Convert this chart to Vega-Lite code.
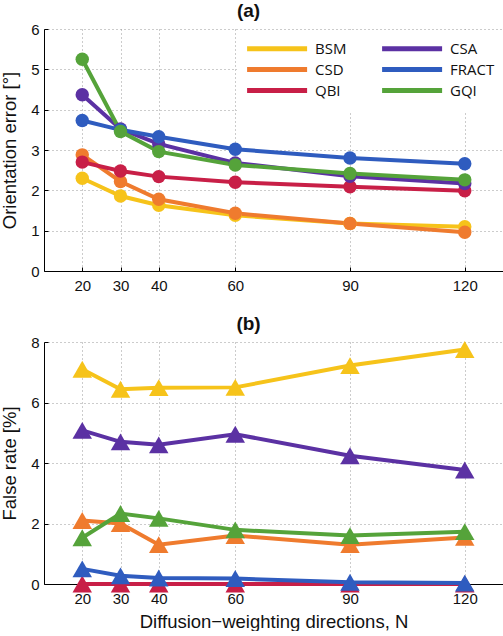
{
  "$schema": "https://vega.github.io/schema/vega-lite/v6.json",
  "padding": {"left": 0, "top": 2, "right": 0, "bottom": 0},
  "background": "white",
  "resolve": {"legend": {"color": "independent"}},
  "config": {
    "font": "Liberation Sans",
    "view": {"stroke": null},
    "concat": {"spacing": 22},
    "axis": {
      "domainColor": "#000",
      "domainWidth": 1,
      "tickColor": "#000",
      "tickSize": -4,
      "labelPadding": 9,
      "labelFontSize": 15,
      "labelColor": "#111",
      "labelFont": "Liberation Sans",
      "titleFont": "Liberation Sans",
      "titleFontSize": 18.5,
      "titleFontWeight": "normal",
      "titleColor": "#111",
      "gridColor": "#999",
      "gridDash": [1, 3],
      "gridWidth": 1
    },
    "axisX": {"labelPadding": 11},
    "title": {"fontSize": 19, "fontWeight": "bold", "font": "Liberation Sans", "color": "#111", "dx": -25, "offset": 1},
    "legend": {
      "orient": "none",
      "direction": "horizontal",
      "legendX": 193,
      "legendY": 1,
      "columns": 2,
      "gridAlign": "all",
      "columnPadding": 12,
      "rowPadding": 0,
      "symbolType": "M-1.4,0H8.6",
      "symbolSize": 144,
      "symbolStrokeWidth": 5,
      "labelFont": "Open Sans",
      "labelFontSize": 15,
      "labelColor": "#111",
      "labelAlign": "left",
      "labelOffset": 51,
      "fillColor": "white",
      "padding": 10,
      "title": null
    }
  },
  "datasets": {
    "a": [
      {"method": "BSM", "N": 20, "value": 2.3}, {"method": "BSM", "N": 30, "value": 1.86}, {"method": "BSM", "N": 40, "value": 1.63}, {"method": "BSM", "N": 60, "value": 1.38}, {"method": "BSM", "N": 90, "value": 1.18}, {"method": "BSM", "N": 120, "value": 1.1},
      {"method": "CSD", "N": 20, "value": 2.88}, {"method": "CSD", "N": 30, "value": 2.22}, {"method": "CSD", "N": 40, "value": 1.78}, {"method": "CSD", "N": 60, "value": 1.43}, {"method": "CSD", "N": 90, "value": 1.18}, {"method": "CSD", "N": 120, "value": 0.96},
      {"method": "QBI", "N": 20, "value": 2.7}, {"method": "QBI", "N": 30, "value": 2.48}, {"method": "QBI", "N": 40, "value": 2.34}, {"method": "QBI", "N": 60, "value": 2.2}, {"method": "QBI", "N": 90, "value": 2.09}, {"method": "QBI", "N": 120, "value": 1.99},
      {"method": "CSA", "N": 20, "value": 4.37}, {"method": "CSA", "N": 30, "value": 3.52}, {"method": "CSA", "N": 40, "value": 3.15}, {"method": "CSA", "N": 60, "value": 2.68}, {"method": "CSA", "N": 90, "value": 2.35}, {"method": "CSA", "N": 120, "value": 2.17},
      {"method": "FRACT", "N": 20, "value": 3.73}, {"method": "FRACT", "N": 30, "value": 3.5}, {"method": "FRACT", "N": 40, "value": 3.33}, {"method": "FRACT", "N": 60, "value": 3.02}, {"method": "FRACT", "N": 90, "value": 2.8}, {"method": "FRACT", "N": 120, "value": 2.66},
      {"method": "GQI", "N": 20, "value": 5.25}, {"method": "GQI", "N": 30, "value": 3.46}, {"method": "GQI", "N": 40, "value": 2.96}, {"method": "GQI", "N": 60, "value": 2.63}, {"method": "GQI", "N": 90, "value": 2.42}, {"method": "GQI", "N": 120, "value": 2.26}
    ],
    "b": [
      {"method": "BSM", "N": 20, "value": 7.1}, {"method": "BSM", "N": 30, "value": 6.44}, {"method": "BSM", "N": 40, "value": 6.49}, {"method": "BSM", "N": 60, "value": 6.5}, {"method": "BSM", "N": 90, "value": 7.22}, {"method": "BSM", "N": 120, "value": 7.75},
      {"method": "CSD", "N": 20, "value": 2.1}, {"method": "CSD", "N": 30, "value": 2.0}, {"method": "CSD", "N": 40, "value": 1.3}, {"method": "CSD", "N": 60, "value": 1.6}, {"method": "CSD", "N": 90, "value": 1.3}, {"method": "CSD", "N": 120, "value": 1.54},
      {"method": "QBI", "N": 20, "value": 0.0}, {"method": "QBI", "N": 30, "value": 0.0}, {"method": "QBI", "N": 40, "value": 0.0}, {"method": "QBI", "N": 60, "value": 0.0}, {"method": "QBI", "N": 90, "value": 0.0}, {"method": "QBI", "N": 120, "value": 0.0},
      {"method": "CSA", "N": 20, "value": 5.08}, {"method": "CSA", "N": 30, "value": 4.7}, {"method": "CSA", "N": 40, "value": 4.6}, {"method": "CSA", "N": 60, "value": 4.95}, {"method": "CSA", "N": 90, "value": 4.24}, {"method": "CSA", "N": 120, "value": 3.77},
      {"method": "FRACT", "N": 20, "value": 0.5}, {"method": "FRACT", "N": 30, "value": 0.27}, {"method": "FRACT", "N": 40, "value": 0.2}, {"method": "FRACT", "N": 60, "value": 0.18}, {"method": "FRACT", "N": 90, "value": 0.06}, {"method": "FRACT", "N": 120, "value": 0.03},
      {"method": "GQI", "N": 20, "value": 1.53}, {"method": "GQI", "N": 30, "value": 2.33}, {"method": "GQI", "N": 40, "value": 2.17}, {"method": "GQI", "N": 60, "value": 1.79}, {"method": "GQI", "N": 90, "value": 1.6}, {"method": "GQI", "N": 120, "value": 1.73}
    ]
  },
  "vconcat": [
    {
      "width": 459,
      "height": 242,
      "title": {"text": "(a)"},
      "data": {"name": "a"},
      "encoding": {
        "x": {"field": "N", "type": "quantitative", "scale": {"domain": [10, 130], "nice": false}, "axis": {"values": [20, 30, 40, 60, 90, 120], "title": null}},
        "y": {"field": "value", "type": "quantitative", "scale": {"domain": [0, 6], "nice": false}, "axis": {"values": [0, 1, 2, 3, 4, 5, 6], "title": "Orientation error [°]", "titlePadding": 11}},
        "color": {"field": "method", "type": "nominal", "scale": {"domain": ["BSM", "CSA", "CSD", "FRACT", "QBI", "GQI"], "range": ["#f6c31a", "#5b31a3", "#ef7b2e", "#2f5cbf", "#c81f47", "#55a33a"]}}
      },
      "layer": [
        {"mark": {"type": "line", "strokeWidth": 4}},
        {"mark": {"type": "point", "shape": "circle", "filled": true, "size": 180, "opacity": 1}}
      ]
    },
    {
      "width": 459,
      "height": 242,
      "title": {"text": "(b)"},
      "data": {"name": "b"},
      "encoding": {
        "x": {"field": "N", "type": "quantitative", "scale": {"domain": [10, 130], "nice": false}, "axis": {"values": [20, 30, 40, 60, 90, 120], "title": "Diffusion−weighting directions, N", "titlePadding": 6}},
        "y": {"field": "value", "type": "quantitative", "scale": {"domain": [0, 8], "nice": false}, "axis": {"values": [0, 2, 4, 6, 8], "title": "False rate [%]", "titlePadding": 11}},
        "color": {"field": "method", "type": "nominal", "legend": null}
      },
      "layer": [
        {"mark": {"type": "line", "strokeWidth": 4}},
        {"mark": {"type": "point", "shape": "triangle-up", "filled": true, "size": 380, "opacity": 1}}
      ]
    }
  ]
}
